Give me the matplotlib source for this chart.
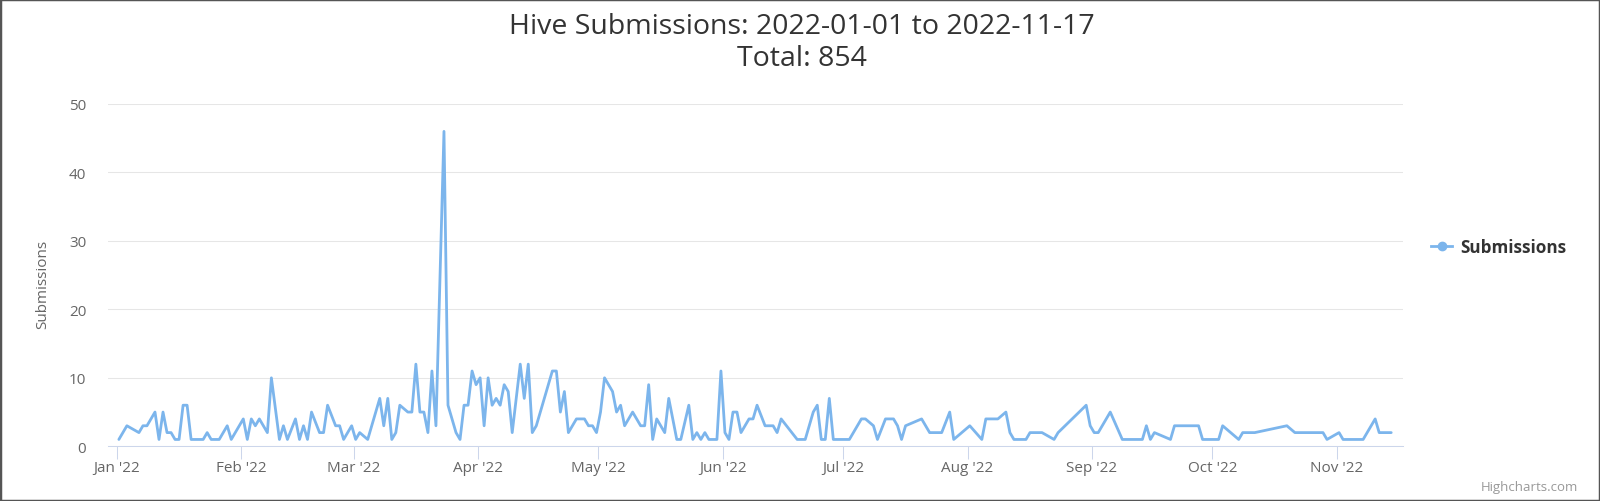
import matplotlib
matplotlib.use("Agg")
import matplotlib.pyplot as plt
from matplotlib.lines import Line2D
from matplotlib.patches import Rectangle
import pandas as pd

plt.rcParams['font.family'] = ['Open Sans', 'DejaVu Sans']

# ---------------- data ----------------
title_line1 = "Hive Submissions: 2022-01-01 to 2022-11-17"
title_line2 = "Total: 854"
series_name = "Submissions"
y_label = "Submissions"
credit_text = "Highcharts.com"
year = 2022

dates = [
    "01-01", "01-03", "01-06", "01-07", "01-08", "01-10", "01-11", "01-12", "01-13", "01-14",
    "01-15", "01-16", "01-17", "01-18", "01-19", "01-20", "01-21", "01-22", "01-23", "01-24",
    "01-25", "01-26", "01-27", "01-28", "01-29", "01-31",
    "02-01", "02-02", "02-03", "02-04", "02-05", "02-07", "02-08", "02-10", "02-11", "02-12",
    "02-14", "02-15", "02-16", "02-17", "02-18", "02-20", "02-21", "02-22", "02-24", "02-25",
    "02-26", "02-28",
    "03-01", "03-02", "03-04", "03-07", "03-08", "03-09", "03-10", "03-11", "03-12", "03-14",
    "03-15", "03-16", "03-17", "03-18", "03-19", "03-20", "03-21", "03-23", "03-24", "03-26",
    "03-27", "03-28", "03-29", "03-30", "03-31",
    "04-01", "04-02", "04-03", "04-04", "04-05", "04-06", "04-07", "04-08", "04-09", "04-11",
    "04-12", "04-13", "04-14", "04-15", "04-19", "04-20", "04-21", "04-22", "04-23", "04-24",
    "04-25", "04-26", "04-27", "04-28", "04-29", "04-30",
    "05-01", "05-02", "05-04", "05-05", "05-06", "05-07", "05-09", "05-11", "05-12", "05-13",
    "05-14", "05-15", "05-16", "05-17", "05-18", "05-20", "05-21", "05-23", "05-24", "05-25",
    "05-26", "05-27", "05-28", "05-29", "05-30", "05-31",
    "06-01", "06-02", "06-03", "06-04", "06-05", "06-07", "06-08", "06-09", "06-11", "06-12",
    "06-13", "06-14", "06-15", "06-19", "06-20", "06-21", "06-23", "06-24", "06-25", "06-26",
    "06-27", "06-28", "06-29", "06-30",
    "07-01", "07-02", "07-05", "07-06", "07-08", "07-09", "07-11", "07-13", "07-14", "07-15",
    "07-16", "07-20", "07-22", "07-23", "07-24", "07-25", "07-27", "07-28",
    "08-01", "08-04", "08-05", "08-06", "08-07", "08-08", "08-10", "08-11", "08-12", "08-13",
    "08-14", "08-15", "08-16", "08-17", "08-18", "08-19", "08-22", "08-23", "08-30", "08-31",
    "09-01", "09-02", "09-05", "09-08", "09-09", "09-10", "09-11", "09-12", "09-13", "09-14",
    "09-15", "09-16", "09-20", "09-21", "09-22", "09-23", "09-24", "09-25", "09-26", "09-27",
    "09-28", "09-29", "09-30",
    "10-01", "10-02", "10-03", "10-05", "10-07", "10-08", "10-09", "10-10", "10-11", "10-19",
    "10-21", "10-23", "10-25", "10-28", "10-29",
    "11-01", "11-02", "11-03", "11-04", "11-05", "11-06", "11-07", "11-10", "11-11", "11-12",
    "11-13", "11-14",
]

submissions = [
    1, 3, 2, 3, 3, 5, 1, 5, 2, 2,
    1, 1, 6, 6, 1, 1, 1, 1, 2, 1,
    1, 1, 2, 3, 1, 3,
    4, 1, 4, 3, 4, 2, 10, 1, 3, 1,
    4, 1, 3, 1, 5, 2, 2, 6, 3, 3,
    1, 3,
    1, 2, 1, 7, 3, 7, 1, 2, 6, 5,
    5, 12, 5, 5, 2, 11, 3, 46, 6, 2,
    1, 6, 6, 11, 9,
    10, 3, 10, 6, 7, 6, 9, 8, 2, 12,
    7, 12, 2, 3, 11, 11, 5, 8, 2, 3,
    4, 4, 4, 3, 3, 2,
    5, 10, 8, 5, 6, 3, 5, 3, 3, 9,
    1, 4, 3, 2, 7, 1, 1, 6, 1, 2,
    1, 2, 1, 1, 1, 11,
    2, 1, 5, 5, 2, 4, 4, 6, 3, 3,
    3, 2, 4, 1, 1, 1, 5, 6, 1, 1,
    7, 1, 1, 1,
    1, 1, 4, 4, 3, 1, 4, 4, 3, 1,
    3, 4, 2, 2, 2, 2, 5, 1,
    3, 1, 4, 4, 4, 4, 5, 2, 1, 1,
    1, 1, 2, 2, 2, 2, 1, 2, 6, 3,
    2, 2, 5, 1, 1, 1, 1, 1, 1, 3,
    1, 2, 1, 3, 3, 3, 3, 3, 3, 3,
    1, 1, 1,
    1, 1, 3, 2, 1, 2, 2, 2, 2, 3,
    2, 2, 2, 2, 1,
    2, 1, 1, 1, 1, 1, 1, 4, 2, 2,
    2, 2,
]

y_ticks = [0, 10, 20, 30, 40, 50]
month_starts = ["01-01", "02-01", "03-01", "04-01", "05-01", "06-01",
                "07-01", "08-01", "09-01", "10-01", "11-01"]
month_labels = ["Jan '22", "Feb '22", "Mar '22", "Apr '22", "May '22", "Jun '22",
                "Jul '22", "Aug '22", "Sep '22", "Oct '22", "Nov '22"]

# ---------------- style ----------------
W, H = 1600, 502
LINE_COLOR = "#7cb5ec"
x_vals = (pd.to_datetime([f"{year}-{d}" for d in dates]) + pd.Timedelta(hours=13)).to_pydatetime()
ticks_x = pd.to_datetime([f"{year}-{d}" for d in month_starts]).to_pydatetime()
start = pd.Timestamp(f"{year}-01-01")

fig = plt.figure(figsize=(W / 100, H / 100), dpi=100)
fig.patch.set_facecolor("white")

left_px, right_px, top_px, bottom_px = 107.7, 1402.7, 105.0, 447.3
ax = fig.add_axes([left_px / W, 1 - bottom_px / H, (right_px - left_px) / W, (bottom_px - top_px) / H])

ax.plot(x_vals, submissions, color=LINE_COLOR, lw=2, solid_joinstyle="round",
        solid_capstyle="round", zorder=3)

ax.set_xlim((start - pd.Timedelta(days=2.24)).to_pydatetime(),
            (start + pd.Timedelta(days=320.4)).to_pydatetime())
ax.set_ylim(0, 50)
ax.set_yticks(y_ticks)
ax.set_yticklabels([str(t) for t in y_ticks])
ax.set_xticks(ticks_x)
ax.set_xticklabels(month_labels)

ax.grid(axis="y", color="#e6e6e6", lw=0.75)
ax.grid(axis="x", visible=False)
ax.set_axisbelow(True)
for s in ["top", "right", "left"]:
    ax.spines[s].set_visible(False)
ax.spines["bottom"].set_color("#ccd6eb")
ax.spines["bottom"].set_linewidth(0.75)

ax.tick_params(axis="x", length=9, width=0.75, color="#ccd6eb", labelcolor="#666666",
               labelsize=11, pad=1)
ax.tick_params(axis="y", length=0, labelcolor="#666666", labelsize=11, pad=15.5)

fig.text(43 / W, 1 - 284 / H, y_label, rotation=90, ha="center", va="center",
         color="#666666", fontsize=11)

fig.text(802 / W, 1 - 27 / H, title_line1, ha="center", va="center", color="#333333", fontsize=20.5)
fig.text(802 / W, 1 - 58.5 / H, title_line2, ha="center", va="center", color="#333333", fontsize=20.5)

handle = Line2D([], [], color=LINE_COLOR, lw=2, marker="o", markersize=6)
fig.legend([handle], [series_name], loc="center left",
           bbox_to_anchor=(1431 / W, 1 - 248 / H), frameon=False,
           prop={"weight": "bold", "size": 12.3}, labelcolor="#333333",
           handlelength=1.25, handletextpad=0.45, borderpad=0, borderaxespad=0)

fig.text(1578 / W, 1 - 488 / H, credit_text, ha="right", va="center", color="#999999", fontsize=9.5)

fig.add_artist(Rectangle((0, 0), 1, 1, transform=fig.transFigure, fill=False,
                         edgecolor="#555555", lw=2.5))

fig.savefig("out.png", dpi=100)
